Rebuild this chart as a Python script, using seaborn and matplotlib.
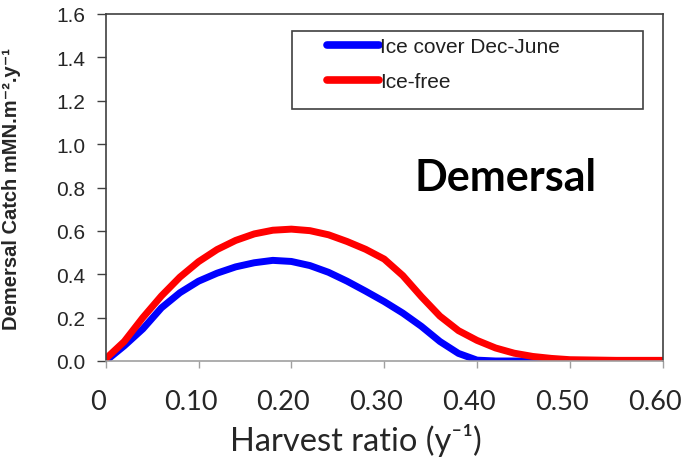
import matplotlib
matplotlib.use("Agg")
import matplotlib.pyplot as plt
import matplotlib.patches as mpatches
import matplotlib.transforms as mtransforms
import seaborn as sns
import pandas as pd

harvest = [0, 0.02, 0.04, 0.06, 0.08, 0.10, 0.12, 0.14, 0.16, 0.18, 0.20, 0.22, 0.24,
           0.26, 0.28, 0.30, 0.32, 0.34, 0.36, 0.38, 0.40, 0.42, 0.44, 0.46, 0.48,
           0.50, 0.55, 0.60]
ice_cover = [0.0, 0.07, 0.148, 0.245, 0.315, 0.368, 0.405, 0.434, 0.453, 0.464, 0.459,
             0.44, 0.409, 0.368, 0.322, 0.274, 0.221, 0.16, 0.09, 0.035, 0.004, 0.0,
             0.0, 0.0, 0.0, 0.0, 0.0, 0.0]
ice_free = [0.01, 0.09, 0.2, 0.3, 0.387, 0.458, 0.514, 0.556, 0.586, 0.603, 0.608,
            0.601, 0.582, 0.551, 0.515, 0.47, 0.394, 0.297, 0.207, 0.14, 0.095, 0.06,
            0.036, 0.021, 0.012, 0.006, 0.003, 0.003]
series_names = ["Ice cover Dec-June", "Ice-free"]
series_colors = ["#0000ff", "#ff0000"]
x_ticks = [0, 0.10, 0.20, 0.30, 0.40, 0.50, 0.60]
x_tick_labels = ["0", "0.10", "0.20", "0.30", "0.40", "0.50", "0.60"]
y_ticks = [0.0, 0.2, 0.4, 0.6, 0.8, 1.0, 1.2, 1.4, 1.6]
y_tick_labels = ["0.0", "0.2", "0.4", "0.6", "0.8", "1.0", "1.2", "1.4", "1.6"]

df = pd.concat([
    pd.DataFrame({"harvest": harvest, "catch": ice_cover, "series": series_names[0]}),
    pd.DataFrame({"harvest": harvest, "catch": ice_free, "series": series_names[1]}),
])

sns.set_style("white")
plt.rcParams["font.family"] = ["Liberation Sans", "DejaVu Sans"]

fig = plt.figure(figsize=(6.86, 4.6), dpi=100)
ax = fig.add_axes([105.7 / 686, 1 - 362 / 460, (662.7 - 105.7) / 686, (362 - 15) / 460])

sns.lineplot(data=df, x="harvest", y="catch", hue="series",
             palette=dict(zip(series_names, series_colors)), linewidth=5,
             ax=ax, legend=True)
for ln in ax.lines:
    ln.set_solid_joinstyle("round")

ax.set_xlim(0, 0.6)
ax.set_ylim(0, 1.6)

for s in ["left", "top", "right"]:
    ax.spines[s].set_color("#404040")
    ax.spines[s].set_linewidth(1.2)
ax.spines["bottom"].set_color("#a0a0a0")
ax.spines["bottom"].set_linewidth(1.2)

ax.tick_params(axis="y", direction="out", length=6.5, width=1.0, color="#404040", pad=8,
               left=True)
ax.tick_params(axis="x", direction="out", length=5, width=1.0, color="#a0a0a0", pad=15,
               bottom=True)

ax.set_xticks(x_ticks)
ax.set_xticklabels(x_tick_labels, family=["Lato", "DejaVu Sans"], fontsize=19.5)
ax.set_yticks(y_ticks)
ax.set_yticklabels(y_tick_labels, family=["Liberation Sans", "DejaVu Sans"], fontsize=15)

shift = mtransforms.ScaledTranslation(-8 / 100, 0, fig.dpi_scale_trans)
for tick in ax.xaxis.get_major_ticks():
    tick.label1.set_transform(tick.label1.get_transform() + shift)

ax.set_xlabel("Harvest ratio (y\u207b\u00b9)", family=["Lato", "DejaVu Sans"], fontsize=23.5)
ax.xaxis.set_label_coords((356 - 105.7) / 557, (362 - 451) / 347)
ax.xaxis.label.set_verticalalignment("baseline")
ax.set_ylabel("Demersal Catch mMN.m\u207b\u00b2.y\u207b\u00b9",
              family=["Liberation Sans", "DejaVu Sans"], fontsize=14.5, fontweight="bold")
ax.yaxis.set_label_coords(-0.152, 0.5)

ax.text(0.718, 0.53, "Demersal", transform=ax.transAxes, ha="center", va="center",
        family=["Lato", "DejaVu Sans"], fontsize=31, fontweight="bold", color="black")

handles, labels = ax.get_legend_handles_labels()
for h in handles:
    h.set_linewidth(5.5)
leg = ax.legend(handles, labels, loc="upper left",
                bbox_to_anchor=((322 - 105.7) / 557, (362 - 33) / 347),
                frameon=False, fontsize=15, handlelength=2.5, handletextpad=0.05,
                labelspacing=0.75, borderpad=0.25, borderaxespad=0)
for t in leg.get_texts():
    t.set_color("#202020")

rect = mpatches.Rectangle(((292 - 105.7) / 557, (362 - 110) / 347),
                          (643 - 292) / 557, (110 - 32) / 347,
                          transform=ax.transAxes, fill=False, edgecolor="#404040",
                          linewidth=1.2, zorder=5)
ax.add_patch(rect)

fig.savefig("out.png", dpi=100, facecolor="white")
